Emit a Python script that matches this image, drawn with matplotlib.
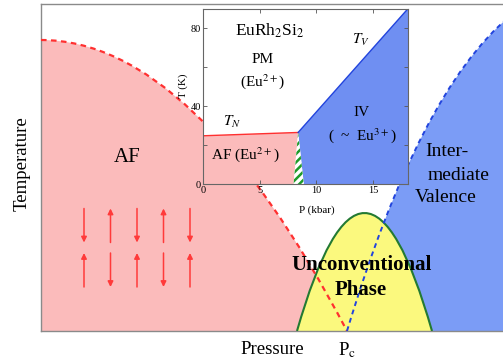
import matplotlib
matplotlib.use("Agg")
import matplotlib.pyplot as plt
from matplotlib.path import Path
from matplotlib.patches import PathPatch, Polygon

plt.rcParams["font.family"] = ["Liberation Serif", "DejaVu Serif"]
plt.rcParams["mathtext.fontset"] = "stix"
plt.rcParams["hatch.linewidth"] = 1.8

# schematic diagram, arbitrary units (pressure, temperature)
# each boundary is a quadratic bezier: start, control, end
P_C = 306
AF_CURVE = [(0, 291), (153, 291), (306, 0)]
IV_CURVE = [(306, 0), (378, 239), (469, 315)]
DOME_CURVE = [(256, 0), (323.5, 236), (391, 0)]
SPINS_TOP = [-1, 1, -1, 1, -1]
SPINS_BOTTOM = [1, -1, 1, -1, 1]

# inset: EuRh2Si2, P in kbar, T in K
TN_P = [0, 8.4]
TN_T = [24.8, 26.5]
TV_P = [8.4, 18.3]
TV_T = [26.5, 91.5]
MIX_P = [8.0, 8.4, 8.9]
MIX_T = [0, 26.5, 0]

PINK = "#fbbbbb"
BLUE = "#7b9cf6"
YELLOW = "#fbf97e"
GREEN = "#237a33"
RED = "#ff3030"
DBLUE = "#2244dd"


def curve_path(pts, close_to=None):
    verts = [pts[0], pts[1], pts[2]]
    codes = [Path.MOVETO, Path.CURVE3, Path.CURVE3]
    if close_to is not None:
        verts += close_to + [pts[0]]
        codes += [Path.LINETO] * len(close_to) + [Path.CLOSEPOLY]
    return Path(verts, codes)


fig = plt.figure(figsize=(5.03, 3.63), dpi=100)
ax = fig.add_axes([41 / 503, 32 / 363, 462 / 503, 327 / 363])
ax.set_xlim(0, 462)
ax.set_ylim(0, 327)
ax.set_xticks([])
ax.set_yticks([])
ax.spines["right"].set_visible(False)
for s in ("left", "top", "bottom"):
    ax.spines[s].set_color("#8a8a8a")
    ax.spines[s].set_linewidth(1.0)

# filled regions
ax.add_patch(PathPatch(curve_path(AF_CURVE, [(0, 0)]), facecolor=PINK, lw=0, zorder=1))
ax.add_patch(PathPatch(curve_path(IV_CURVE, [(520, 315), (520, 0)]),
                       facecolor=BLUE, lw=0, zorder=1))
ax.add_patch(PathPatch(curve_path(DOME_CURVE, []), facecolor=YELLOW, lw=0, zorder=2))
ax.add_patch(PathPatch(curve_path(DOME_CURVE), fill=False, edgecolor=GREEN, lw=1.5, zorder=3))

# crossover lines
ax.add_patch(PathPatch(curve_path(AF_CURVE), fill=False, edgecolor=RED, lw=1.6,
                       linestyle=(0, (2.5, 2)), zorder=4))
ax.add_patch(PathPatch(curve_path(IV_CURVE), fill=False, edgecolor=DBLUE, lw=1.4,
                       linestyle=(0, (2.5, 2)), zorder=4))

# spins
for row_y, spins in ((105.5, SPINS_TOP), (61, SPINS_BOTTOM)):
    for i, s in enumerate(spins):
        x = 43 + 26.5 * i
        ax.annotate("", xy=(x, row_y + s * 17), xytext=(x, row_y - s * 17),
                    arrowprops=dict(arrowstyle="-|>", color="#ff3a3a", lw=1.1,
                                    mutation_scale=8, shrinkA=0, shrinkB=0), zorder=5)

ax.text(86, 173, "AF", fontsize=15, ha="center", va="center", zorder=6)
ax.text(384, 179, "Inter-", fontsize=14, ha="left", va="center", zorder=6)
ax.text(387, 156, "mediate", fontsize=14, ha="left", va="center", zorder=6)
ax.text(374, 133, "Valence", fontsize=14, ha="left", va="center", zorder=6)
ax.text(321, 66, "Unconventional", fontsize=15, fontweight="bold",
        ha="center", va="center", zorder=6)
ax.text(320, 41, "Phase", fontsize=15, fontweight="bold",
        ha="center", va="center", zorder=6)

ax.text(231, -19, "Pressure", fontsize=13.5, ha="center", va="center", clip_on=False)
ax.text(P_C, -19, r"P$_\mathrm{c}$", fontsize=13.5, ha="center", va="center", clip_on=False)
fig.text(22 / 503, 1 - 164 / 363, "Temperature", fontsize=13.5, rotation=90,
         ha="center", va="center")

# inset
axi = fig.add_axes([203 / 503, 179 / 363, 205 / 503, 175 / 363])
axi.set_facecolor("white")
axi.set_xlim(0, 18.1)
axi.set_ylim(0, 90)

axi.add_patch(Polygon([(0, 0), (TN_P[0], TN_T[0]), (TN_P[1], TN_T[1]), (MIX_P[0], 0)],
                      facecolor=PINK, lw=0))
axi.add_patch(Polygon([(MIX_P[2], 0), (TV_P[0], TV_T[0]), (TV_P[1], TV_T[1]), (TV_P[1], 0)],
                      facecolor="#6f8ff2", lw=0))
axi.add_patch(Polygon(list(zip(MIX_P, MIX_T)), facecolor="white", edgecolor="#1d9a2a",
                      hatch="////", lw=0))
axi.plot(TN_P, TN_T, color=RED, lw=1.0)
axi.plot(TV_P, TV_T, color=DBLUE, lw=1.0)

axi.set_xticks([0, 5, 10, 15])
axi.set_yticks([0, 40, 80])
axi.set_yticks([20, 60], minor=True)
axi.tick_params(which="both", direction="in", top=True, right=True, length=3,
                width=0.6, labelsize=7.5, pad=1.5, color="#555555")
for s in axi.spines.values():
    s.set_color("#666666")
    s.set_linewidth(0.8)
axi.set_xlabel("P (kbar)", fontsize=8)
axi.xaxis.set_label_coords(0.556, -0.12)
axi.set_ylabel("T (K)", fontsize=8)
axi.yaxis.set_label_coords(-0.075, 0.56)

axi.text(5.9, 79, r"EuRh$_2$Si$_2$", fontsize=12.5, ha="center", va="center")
axi.text(5.3, 64, "PM", fontsize=11, ha="center", va="center")
axi.text(5.3, 52.5, r"(Eu$^{2+}$)", fontsize=11, ha="center", va="center")
axi.text(2.6, 32, r"$T_N$", fontsize=11, ha="center", va="center")
axi.text(13.9, 74, r"$T_V$", fontsize=11, ha="center", va="center")
axi.text(14.0, 37, "IV", fontsize=11, ha="center", va="center")
axi.text(14.1, 25, r"(  ~  Eu$^{3+}$)", fontsize=11, ha="center", va="center")
axi.text(3.7, 15, r"AF (Eu$^{2+}$)", fontsize=11, ha="center", va="center")

fig.savefig("out.png", dpi=100)
